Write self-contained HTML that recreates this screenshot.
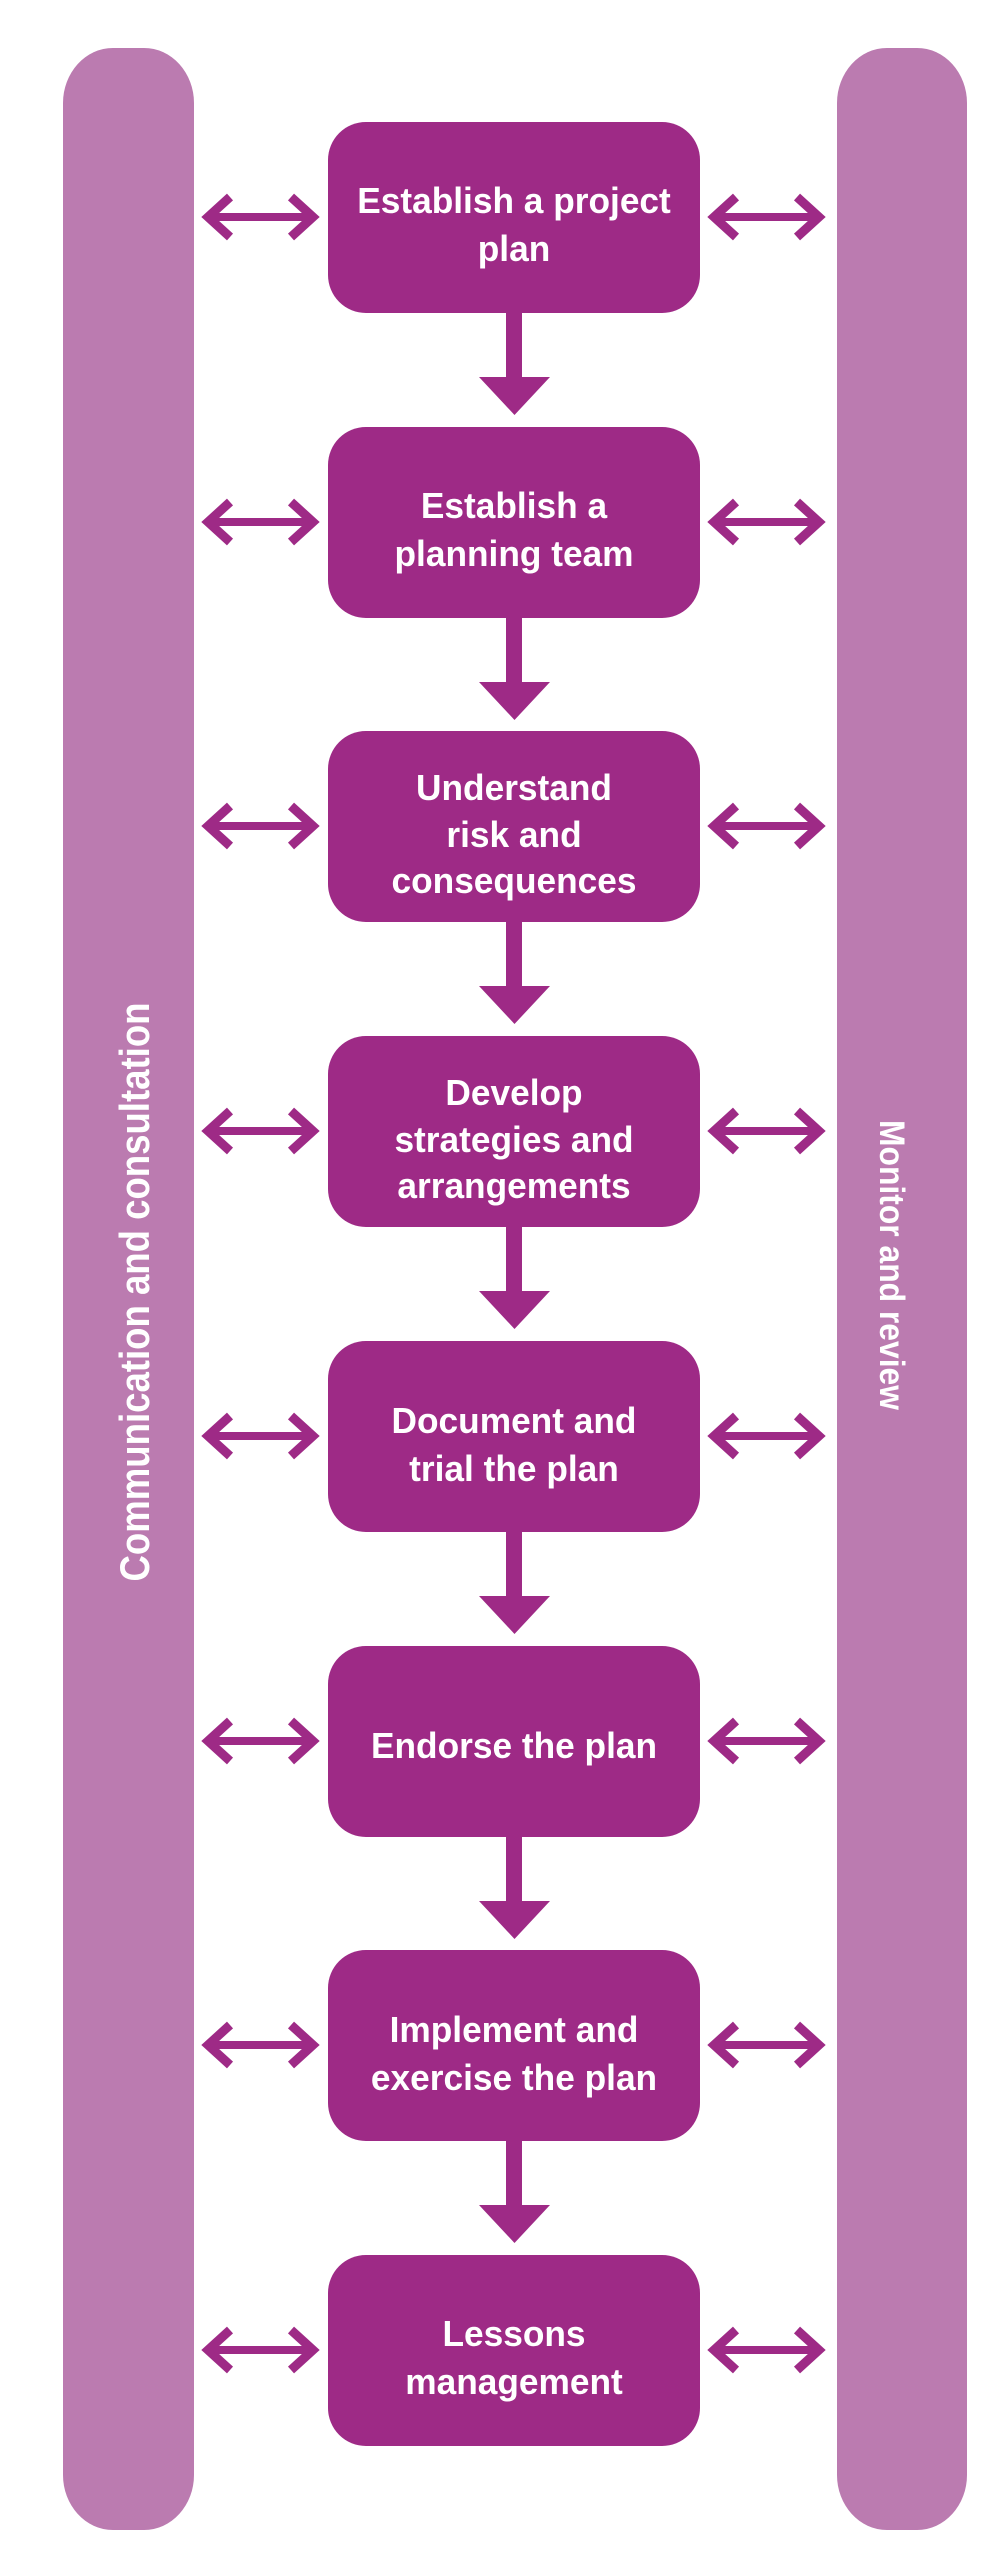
<!DOCTYPE html>
<html><head><meta charset="utf-8"><style>
html,body{margin:0;padding:0;background:#fff;}
svg{display:block;}
.t{font-family:"Liberation Sans",sans-serif;font-weight:bold;fill:#fff;font-size:36px;}
.s{font-family:"Liberation Sans",sans-serif;font-weight:bold;fill:#fff;font-size:42px;}
</style></head><body>
<svg width="1000" height="2550" viewBox="0 0 1000 2550" xmlns="http://www.w3.org/2000/svg">
<defs>
<g id="da">
<line x1="207" y1="0" x2="314" y2="0" stroke="#9e2a86" stroke-width="8"/>
<polyline points="230,-20 208,0 230,20" fill="none" stroke="#9e2a86" stroke-width="9"/>
<polyline points="291,-20 313,0 291,20" fill="none" stroke="#9e2a86" stroke-width="9"/>
</g>
<g id="row">
<rect x="328" y="0" width="372" height="191" rx="38" fill="#9e2a86"/>
<use href="#da" y="95"/>
<use href="#da" x="506" y="95"/>
</g>
<g id="dn">
<rect x="506" y="0" width="16" height="66" fill="#9e2a86"/>
<polygon points="479,64 550,64 514.5,102" fill="#9e2a86"/>
</g>
</defs>
<rect x="63" y="48" width="131" height="2482" rx="50" ry="55" fill="#bb7bb0"/>
<rect x="837" y="48" width="130" height="2482" rx="50" ry="55" fill="#bb7bb0"/>
<text class="s" transform="translate(149,1292) rotate(-90)" text-anchor="middle" textLength="579" lengthAdjust="spacingAndGlyphs">Communication and consultation</text>
<text class="s" style="font-size:35px" transform="translate(880,1265) rotate(90)" text-anchor="middle" textLength="290" lengthAdjust="spacingAndGlyphs">Monitor and review</text>

<use href="#row" y="122"/>
<use href="#row" y="427"/>
<use href="#row" y="731"/>
<use href="#row" y="1036"/>
<use href="#row" y="1341"/>
<use href="#row" y="1646"/>
<use href="#row" y="1950"/>
<use href="#row" y="2255"/>

<use href="#dn" y="313"/>
<use href="#dn" y="618"/>
<use href="#dn" y="922"/>
<use href="#dn" y="1227"/>
<use href="#dn" y="1532"/>
<use href="#dn" y="1837"/>
<use href="#dn" y="2141"/>

<g transform="translate(514,0) scale(0.98,1)" text-anchor="middle">
<text class="t" x="0" y="213">Establish a project</text>
<text class="t" x="0" y="261">plan</text>
<text class="t" x="0" y="518">Establish a</text>
<text class="t" x="0" y="566">planning team</text>
<text class="t" x="0" y="800">Understand</text>
<text class="t" x="0" y="847">risk and</text>
<text class="t" x="0" y="893">consequences</text>
<text class="t" x="0" y="1105">Develop</text>
<text class="t" x="0" y="1152">strategies and</text>
<text class="t" x="0" y="1198">arrangements</text>
<text class="t" x="0" y="1433">Document and</text>
<text class="t" x="0" y="1481">trial the plan</text>
<text class="t" x="0" y="1758">Endorse the plan</text>
<text class="t" x="0" y="2042">Implement and</text>
<text class="t" x="0" y="2090">exercise the plan</text>
<text class="t" x="0" y="2346">Lessons</text>
<text class="t" x="0" y="2394">management</text>
</g>
</svg>
</body></html>
